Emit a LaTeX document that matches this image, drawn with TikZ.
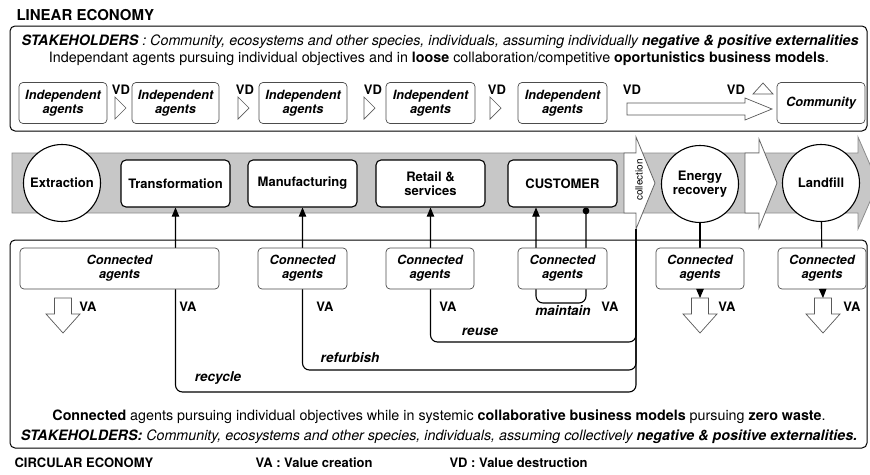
\documentclass[tikz,border=0pt]{standalone}
\usepackage{fontspec}
\setmainfont{TeX Gyre Heros}
\usetikzlibrary{arrows}
\usetikzlibrary{backgrounds}

\newcommand{\sz}[1]{\fontsize{#1}{14}\selectfont}

\tikzset{
  agent/.style={draw=black!70, line width=0.7pt, rounded corners=4pt, fill=white, align=center, inner sep=0pt, minimum height=41, font=\sz{12.7}\bfseries\itshape},
  stage/.style={draw, line width=1.1pt, rounded corners=5pt, fill=white, align=center, inner sep=0pt, minimum width=109, minimum height=47, font=\sz{13}\bfseries},
  sink/.style={draw, line width=1.1pt, circle, fill=white, align=center, inner sep=0pt, minimum size=77, font=\sz{13}\bfseries},
  lbl/.style={font=\sz{13}\bfseries},
  looplbl/.style={font=\sz{13.5}\bfseries\itshape},
  flowline/.style={line width=1.1pt, rounded corners=7pt},
  hollow/.style={draw=black!65, fill=white, line width=0.7pt},
}

\begin{document}
\begin{tikzpicture}[x=1pt, y=-1pt]
\useasboundingbox (0,0) rectangle (870,474);

% linear economy
\node[anchor=west, font=\sz{15}\bfseries] (linear) at (13,15) {LINEAR ECONOMY};
\draw[line width=1pt, rounded corners=5pt] (10,26) rectangle (867,131);
\node[font=\sz{14.3}\itshape] (stake1) at (440,42) {\textbf{STAKEHOLDERS} : Community, ecosystems and other species, individuals, assuming individually \textbf{negative \& positive externalities}};
\node[font=\sz{14.3}] (indep) at (439,59) {Independant agents pursuing individual objectives and in \textbf{loose} collaboration/competitive \textbf{oportunistics business models}.};
\node[agent, minimum width=88] (ia1) at (63,103) {Independent\\agents};
\node[agent, minimum width=87] (ia2) at (175.5,103) {Independent\\agents};
\node[agent, minimum width=88] (ia3) at (303,103) {Independent\\agents};
\node[agent, minimum width=89] (ia4) at (430.5,103) {Independent\\agents};
\node[agent, minimum width=89] (ia5) at (562.5,103) {Independent\\agents};
\node[agent, minimum width=88] (community) at (821,103) {Community};
\foreach \x/\n in {121/1,245/2,373/3,497/4,632/5,736/6}
  \node[lbl] (vd\n) at (\x,90) {VD};
\foreach \x in {115,238,364,490}
  \draw[hollow] (\x,97) -- (\x+11,108) -- (\x,119) -- cycle;
\draw[hollow] (627,103) -- (745,103) -- (745,98) -- (772,109) -- (745,120) -- (745,115) -- (627,115) -- cycle;
\draw[hollow] (753,94) -- (763,83) -- (773,94) -- cycle;

% value chain
\node[sink] (extraction) at (62,183) {Extraction};
\node[stage] (trans) at (175.5,183.5) {Transformation};
\node[stage] (manuf) at (302.5,183.5) {Manufacturing};
\node[stage] (retail) at (430.5,183.5) {Retail \&\\services};
\node[stage] (customer) at (562.5,183.5) {CUSTOMER};
\node[sink] (energy) at (700,184) {Energy\\recovery};
\node[sink] (landfill) at (821,183) {Landfill};
\coordinate (colfoot) at (636,229);

% circular economy
\draw[line width=1pt, rounded corners=5pt] (10,240) rectangle (867,448);
\node[agent, minimum width=199] (ca1) at (119.5,268.5) {Connected\\agents};
\node[agent, minimum width=89] (ca2) at (302.5,268.5) {Connected\\agents};
\node[agent, minimum width=88] (ca3) at (430,268.5) {Connected\\agents};
\node[agent, minimum width=89] (ca4) at (562.5,268.5) {Connected\\agents};
\node[agent, minimum width=88] (ca5) at (700,268.5) {Connected\\agents};
\node[agent, minimum width=88] (ca6) at (822,268.5) {Connected\\agents};
\foreach \x/\n in {63/1,700/5,823/6} {
  \draw[hollow] (\x-8.5,298) -- (\x+8.5,298) -- (\x+8.5,314) -- (\x+17,314) -- (\x,333) -- (\x-17,314) -- (\x-8.5,314) -- cycle;
  \coordinate (drop\n) at (\x,298);
}
\foreach \x/\n in {88/1,188/2,325/3,448/4,610/5,727/6,852/7}
  \node[lbl] (va\n) at (\x,307) {VA};
\node[looplbl] (maintain) at (563,311) {maintain};
\node[looplbl] (reuse) at (480,332) {reuse};
\node[looplbl] (refurbish) at (350,358) {refurbish};
\node[looplbl] (recycle) at (218,378) {recycle};
\node[font=\sz{14.3}] (connected) at (439,417) {\textbf{Connected} agents pursuing individual objectives while in systemic \textbf{collaborative business models} pursuing \textbf{zero waste}.};
\node[font=\sz{14.3}\itshape] (stake2) at (439,437) {\textbf{STAKEHOLDERS:} Community, ecosystems and other species, individuals, assuming collectively \textbf{negative \& positive externalities.}};
\node[anchor=west, font=\sz{13}\bfseries] (circular) at (11,463) {CIRCULAR ECONOMY};
\node[anchor=west, font=\sz{13}\bfseries] (vaname) at (252,463) {VA : Value creation};
\node[anchor=west, font=\sz{13}\bfseries] (vdname) at (446,463) {VD : Value destruction};

\begin{scope}[on background layer]
  \draw[fill=black!22, draw=black!45, line width=0.8pt] (12,153) -- (858,153) -- (858,137) -- (878,183) -- (858,229) -- (858,213) -- (12,213) -- cycle;
  \draw[fill=white, draw=black!60, line width=0.8pt] (624,153) -- (636,153) -- (636,137) -- (655,183) -- (colfoot) -- (636,213) -- (624,213) -- cycle;
  \draw[fill=white, draw=black!60, line width=0.8pt] (745,153) -- (759,153) -- (759,139) -- (777,183) -- (759,228) -- (759,213) -- (745,213) -- cycle;
  \node[rotate=90, font=\sz{10}] (collection) at (639,180) {collection};
  % loops back into the chain
  \draw[flowline, -triangle 45] (colfoot) |- (trans.south |- 0,392) -- (trans.south);
  \draw[flowline, -triangle 45] (colfoot) |- (manuf.south |- 0,370) -- (manuf.south);
  \draw[flowline, -triangle 45] (colfoot) |- (retail.south |- 0,342) -- (retail.south);
  \draw[flowline, *-triangle 45] (customer.south -| 586,0) |- (561,303) -| (customer.south -| 536,0);
  \draw[line width=1.1pt] (energy) -- (ca5);
  \draw[line width=1.1pt] (landfill) -- (ca6);
\end{scope}
\draw[line width=1.1pt, -triangle 45] (ca5) -- (drop5);
\draw[line width=1.1pt, -triangle 45] (ca6) -- (drop6);
\end{tikzpicture}
\end{document}
